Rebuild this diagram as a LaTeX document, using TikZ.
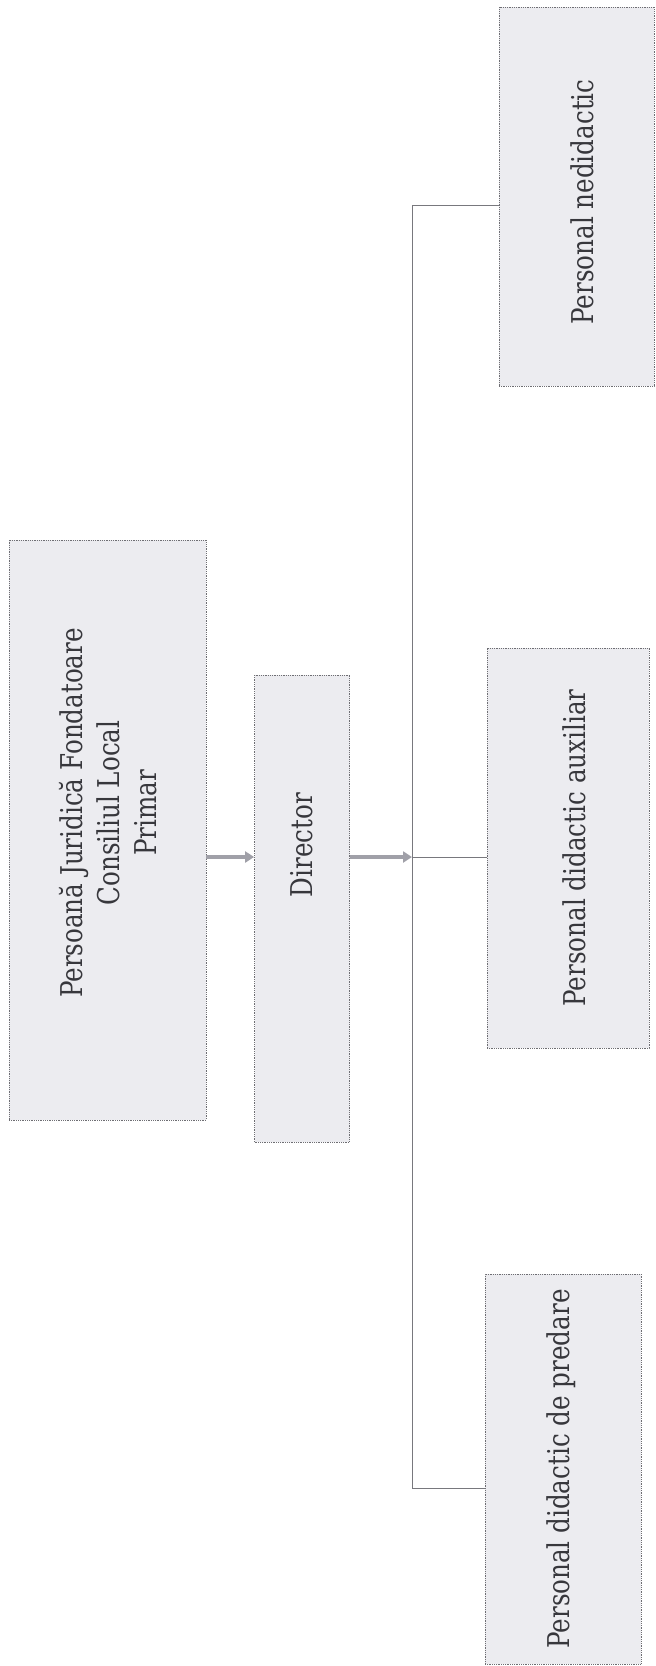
\documentclass[tikz,border=0pt]{standalone}
\usepackage{fontspec}
\setmainfont{DejaVu Serif}[FakeStretch=0.82]
\usetikzlibrary{arrows.meta}
\definecolor{boxfill}{RGB}{236,236,240}
\definecolor{boxline}{RGB}{110,110,115}
\definecolor{txt}{RGB}{55,55,60}
\definecolor{arrowc}{RGB}{160,160,168}
\definecolor{connc}{RGB}{120,120,125}
\tikzset{
  box/.style={draw=boxline, densely dotted, line width=0.8pt, fill=boxfill, rectangle, inner sep=0pt},
  lbl/.style={rotate=90, text=txt, align=center, inner sep=0pt, font=\fontsize{30}{37}\selectfont},
  bigarrow/.style={draw=arrowc, line width=4pt, -{Triangle[length=9pt,width=11pt]}},
  conn/.style={draw=connc, line width=0.8pt}
}
\begin{document}
\begin{tikzpicture}[x=1pt,y=-1pt]
\useasboundingbox (0,0) rectangle (656,1666);
% boxes
\node[box, minimum width=197pt, minimum height=580pt] (pjf) at (107.5,830) {};
\node[box, minimum width=95pt, minimum height=467pt] (dir) at (302,908.5) {};
\node[box, minimum width=155pt, minimum height=379pt] (ned) at (576.5,196.5) {};
\node[box, minimum width=162pt, minimum height=400pt] (aux) at (568,848) {};
\node[box, minimum width=156pt, minimum height=390pt] (pred) at (563,1469) {};
% labels
\node[lbl] (tpjf) at (108,813) {Persoană Juridică Fondatoare\\Consiliul Local\\Primar};
\node[lbl] (tdir) at (302,845) {Director};
\node[lbl] (tned) at (582,202) {Personal nedidactic};
\node[lbl] (taux) at (574,848) {Personal didactic auxiliar};
\node[lbl] (tpred) at (561,1469) {Personal didactic de predare};
% junctions
\coordinate (mid) at (412,857);
\coordinate (top) at (412,205);
\coordinate (bot) at (412,1488);
% arrows
\draw[bigarrow] (pjf.east |- mid) -- (dir.west |- mid);
\draw[bigarrow] (dir.east |- mid) -- (mid);
% connectors
\draw[conn] (top) -- (bot);
\draw[conn] (top) -- (ned.west |- top);
\draw[conn] (mid) -- (aux.west |- mid);
\draw[conn] (bot) -- (pred.west |- bot);
\end{tikzpicture}
\end{document}
